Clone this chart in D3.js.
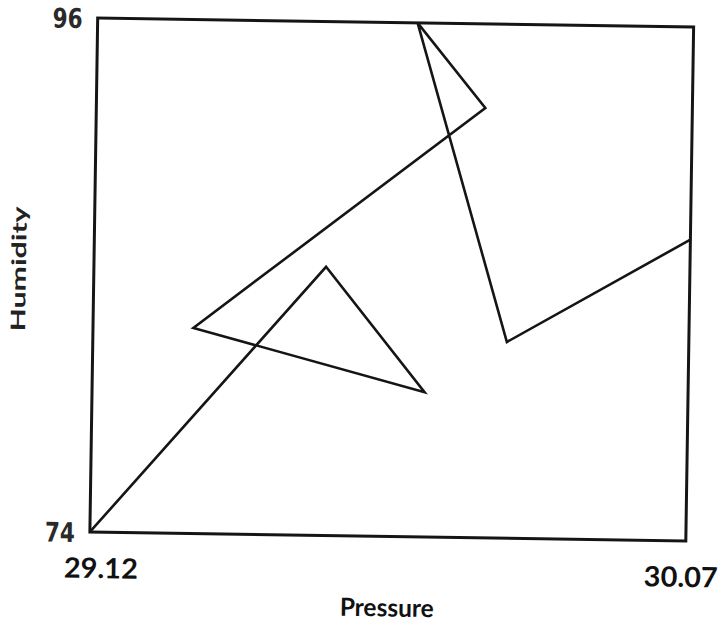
<!DOCTYPE html>
<html>
<head>
<meta charset="utf-8">
<script src="https://cdn.jsdelivr.net/npm/d3@7"></script>
<style>
	html, body { margin: 0; padding: 0; background: #fff; }
	svg { display: block; }
</style>
</head>
<body>
<svg id="chart" width="721" height="624"></svg>
<script>
// values, in drawing order
var pressure = [29.12, 29.49, 29.65, 29.28, 29.74, 29.63, 29.78, 30.07];
var humidity = [74, 85.5, 80.2, 82.8, 92.4, 96, 82.4, 86.9];
var pressureTicks = [29.12, 30.07];
var humidityTicks = [74, 96];

var width = 721, height = 624;
var margin = {top: 22.5, right: 31.25, bottom: 87.5, left: 93.75};
var w = width - margin.left - margin.right;
var h = height - margin.top - margin.bottom;

var svg = d3.select("#chart");
// the page was scanned a little crooked, so tilt everything together
var cx = margin.left + w / 2, cy = margin.top + h / 2;
var page = svg.append("g").attr("transform", "rotate(0.87," + cx + "," + cy + ")");
var g = page.append("g").attr("transform", "translate(" + margin.left + "," + margin.top + ")");

var x = d3.scaleLinear().domain([29.12, 30.07]).range([0, w]);
var y = d3.scaleLinear().domain([74, 96]).range([h, 0]);

g.append("rect")
	.attr("x", 0).attr("y", 0)
	.attr("width", w).attr("height", h)
	.attr("fill", "none")
	.attr("stroke", "#151515")
	.attr("stroke-width", 3);

var pts = pressure.map(function(p, i){ return [p, humidity[i]]; });
var line = d3.line().x(function(d){ return x(d[0]); }).y(function(d){ return y(d[1]); });

g.append("path")
	.datum(pts)
	.attr("d", line)
	.attr("fill", "none")
	.attr("stroke", "#151515")
	.attr("stroke-width", 2.6)
	.attr("stroke-linejoin", "miter");

// x axis labels
var xAxis = g.append("g")
	.attr("transform", "translate(0," + h + ")")
	.call(d3.axisBottom(x).tickValues(pressureTicks).tickSize(0).tickFormat(d3.format(".2f")));
xAxis.select(".domain").remove();
xAxis.selectAll("text")
	.attr("y", 46)
	.attr("dy", 0)
	.attr("dx", function(d, i){ return i === 0 ? 11 : -5; })
	.attr("font-family", "Lato, 'Liberation Sans', sans-serif")
	.attr("font-size", 28)
	.attr("font-weight", "bold")
	.attr("fill", "#111")
	.attr("textLength", 74)
	.attr("lengthAdjust", "spacingAndGlyphs");

// y axis labels
var yAxis = g.append("g")
	.call(d3.axisLeft(y).tickValues(humidityTicks).tickSize(0));
yAxis.select(".domain").remove();
yAxis.selectAll("text")
	.attr("x", -15)
	.attr("dy", "0.36em")
	.attr("font-family", "'DejaVu Sans', sans-serif")
	.attr("font-size", 27)
	.attr("font-weight", "bold")
	.attr("fill", "#2a2a2a")
	.attr("textLength", 30)
	.attr("lengthAdjust", "spacingAndGlyphs");

g.append("text")
	.attr("x", w / 2)
	.attr("y", h + 80)
	.attr("text-anchor", "middle")
	.attr("font-family", "Lato, sans-serif")
	.attr("font-size", 25)
	.attr("font-weight", "bold")
	.attr("fill", "#111")
	.attr("textLength", 94)
	.attr("lengthAdjust", "spacingAndGlyphs")
	.text("Pressure");

g.append("text")
	.attr("transform", "translate(" + (-68) + "," + (h / 2 - 5) + ") rotate(-90)")
	.attr("text-anchor", "middle")
	.attr("font-family", "Lato, sans-serif")
	.attr("font-size", 20)
	.attr("font-weight", "bold")
	.attr("fill", "#222")
	.attr("textLength", 125)
	.attr("lengthAdjust", "spacingAndGlyphs")
	.text("Humidity");
</script>
</body>
</html>
